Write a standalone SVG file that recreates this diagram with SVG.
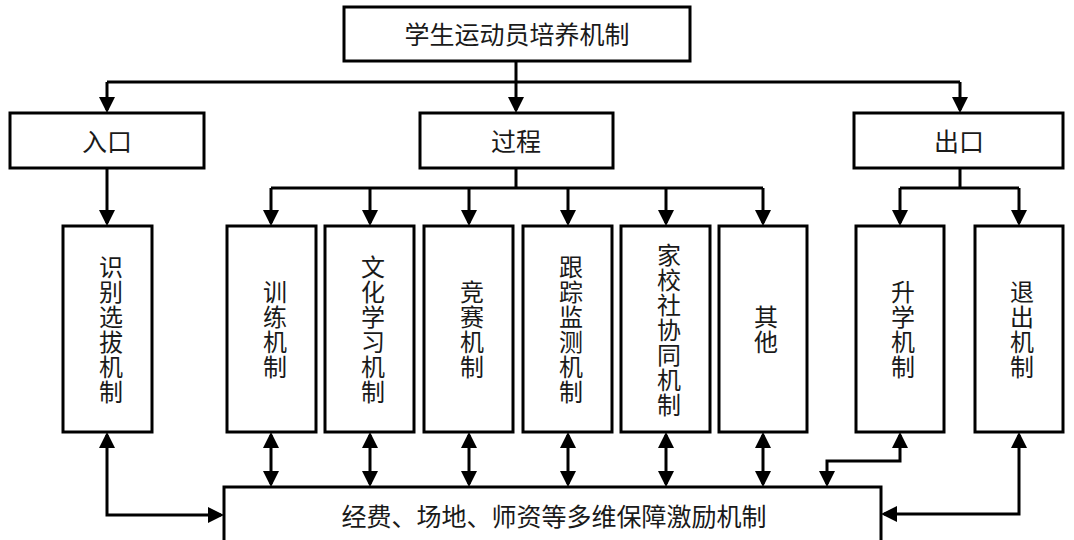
<svg xmlns="http://www.w3.org/2000/svg" width="1074" height="540" viewBox="0 0 1074 540">
<style>
.box{fill:#fff;stroke:#000;stroke-width:3}
.t{font-family:"Noto Sans CJK SC","Noto Sans",sans-serif;font-size:25px;fill:#1a1a1a;text-anchor:middle}
.v{font-family:"Noto Sans CJK SC","Noto Sans",sans-serif;font-size:24px;fill:#1a1a1a;text-anchor:middle;writing-mode:vertical-rl;letter-spacing:1px}
.c{fill:none;stroke:#000;stroke-width:3}
.a{marker-end:url(#ah)}
.d{marker-end:url(#ah);marker-start:url(#ahs)}
</style>
<defs>
<marker id="ah" markerUnits="userSpaceOnUse" markerWidth="16" markerHeight="16" viewBox="0 0 16 16" refX="13" refY="8" orient="auto"><path d="M0,0 L16,8 L0,16 z" fill="#000"/></marker>
<marker id="ahs" markerUnits="userSpaceOnUse" markerWidth="16" markerHeight="16" viewBox="0 0 16 16" refX="13" refY="8" orient="auto-start-reverse"><path d="M0,0 L16,8 L0,16 z" fill="#000"/></marker>
</defs>
<rect width="1074" height="540" fill="#fff"/>
<g id="connectors">
<path class="c" d="M516,61 V82 M107,82 H960"/>
<path class="c a" d="M516,82 V110"/>
<path class="c a" d="M107,82 V110"/>
<path class="c a" d="M960,82 V110"/>
<path class="c a" d="M107,168 V223"/>
<path class="c" d="M516,168 V188 M271,188 H763"/>
<path class="c a" d="M271,188 V223"/>
<path class="c a" d="M370,188 V223"/>
<path class="c a" d="M469,188 V223"/>
<path class="c a" d="M568,188 V223"/>
<path class="c a" d="M666,188 V223"/>
<path class="c a" d="M763,188 V223"/>
<path class="c" d="M960,168 V188 M900,188 H1019"/>
<path class="c a" d="M900,188 V223"/>
<path class="c a" d="M1019,188 V223"/>
<path class="c d" d="M271,435 V484"/>
<path class="c d" d="M370,435 V484"/>
<path class="c d" d="M469,435 V484"/>
<path class="c d" d="M568,435 V484"/>
<path class="c d" d="M666,435 V484"/>
<path class="c d" d="M763,435 V484"/>
<path class="c d" d="M107,435 V515 H221"/>
<path class="c d" d="M900,435 V461 H827 V484"/>
<path class="c d" d="M1019,435 V514 H884"/>
</g>
<g id="n-root"><rect class="box" x="344" y="7" width="346" height="54"/><text class="t" x="517" y="43.5">学生运动员培养机制</text></g>
<g id="n-entry"><rect class="box" x="10" y="113" width="194" height="55"/><text class="t" x="107" y="151">入口</text></g>
<g id="n-process"><rect class="box" x="420" y="113" width="193" height="55"/><text class="t" x="516" y="151">过程</text></g>
<g id="n-exit"><rect class="box" x="854" y="113" width="209" height="55"/><text class="t" x="959" y="151">出口</text></g>
<g id="n-select"><rect class="box" x="63" y="226" width="89" height="206"/><text class="v" x="111" y="330">识别选拔机制</text></g>
<g id="n-train"><rect class="box" x="227" y="226" width="89" height="206"/><text class="v" x="275" y="330">训练机制</text></g>
<g id="n-culture"><rect class="box" x="325" y="226" width="89" height="206"/><text class="v" x="373" y="330">文化学习机制</text></g>
<g id="n-compete"><rect class="box" x="424" y="226" width="89" height="206"/><text class="v" x="472" y="330">竞赛机制</text></g>
<g id="n-track"><rect class="box" x="523" y="226" width="89" height="206"/><text class="v" x="571" y="330">跟踪监测机制</text></g>
<g id="n-home"><rect class="box" x="621" y="226" width="89" height="206"/><text class="v" x="669" y="330">家校社协同机制</text></g>
<g id="n-other"><rect class="box" x="719" y="226" width="88" height="206"/><text class="v" x="766" y="330">其他</text></g>
<g id="n-promote"><rect class="box" x="856" y="226" width="88" height="206"/><text class="v" x="903" y="330">升学机制</text></g>
<g id="n-quit"><rect class="box" x="975" y="226" width="88" height="206"/><text class="v" x="1022" y="330">退出机制</text></g>
<g id="n-support"><rect class="box" x="224" y="487" width="657" height="60"/><text class="t" x="554" y="526">经费、场地、师资等多维保障激励机制</text></g>
</svg>
